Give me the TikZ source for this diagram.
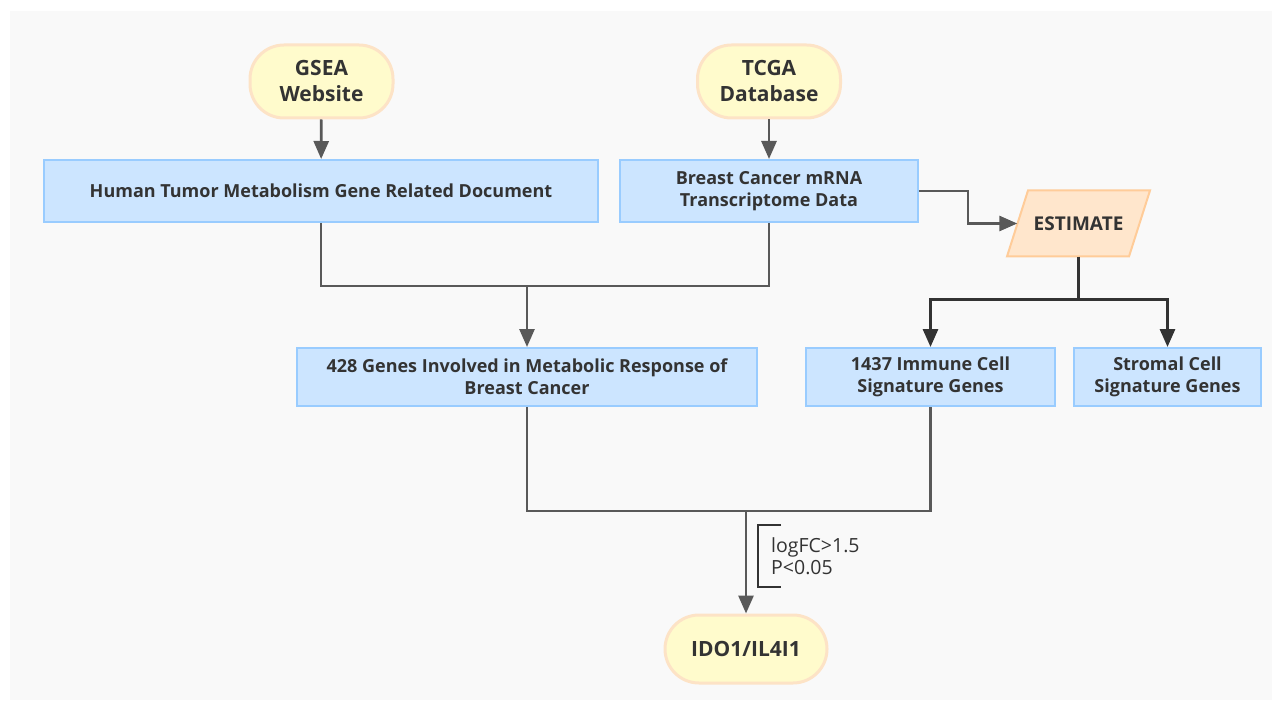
\documentclass[tikz,border=0pt]{standalone}
\usepackage{fontspec}
\setmainfont{Open Sans}
\usetikzlibrary{arrows.meta}
\definecolor{bgc}{HTML}{F9F9F9}
\definecolor{termfill}{HTML}{FFFBCC}
\definecolor{termdraw}{HTML}{FDE3C6}
\definecolor{boxfill}{HTML}{CCE5FF}
\definecolor{boxdraw}{HTML}{99CCFF}
\definecolor{estfill}{HTML}{FFE6CC}
\definecolor{estdraw}{HTML}{FFCC99}
\definecolor{txt}{HTML}{333333}
\definecolor{grayline}{HTML}{595959}
\definecolor{darkline}{HTML}{333333}
\tikzset{
  term/.style={draw=termdraw, fill=termfill, line width=3pt, rounded corners=34pt,
    minimum width=143pt, minimum height=73pt, align=center, text=txt,
    font=\fontsize{21}{26}\selectfont\bfseries, inner sep=0pt},
  box/.style={draw=boxdraw, fill=boxfill, line width=2pt, align=center, text=txt,
    font=\fontsize{18}{22}\selectfont\bfseries, inner sep=0pt},
  gl/.style={draw=grayline, line width=2.8pt},
  dl/.style={draw=darkline, line width=3pt},
  arr/.style={-{Triangle[width=15pt,length=18pt]}},
}
\begin{document}
\begin{tikzpicture}[x=1pt,y=-1pt]
\useasboundingbox (0,0) rectangle (1282,711);
\fill[bgc] (10,11) rectangle (1272,700);

% terminals
\node[term] (gsea) at (321.5,81.5) {GSEA\\Website};
\node[term] (tcga) at (769,81.5) {TCGA\\Database};
\node[term, minimum width=162pt, minimum height=68pt] (ido) at (746,649) {IDO1/IL4I1};

% boxes
\node[box, minimum width=554pt, minimum height=62pt] (human) at (321,191) {Human Tumor Metabolism Gene Related Document};
\node[box, minimum width=298pt, minimum height=62pt] (breast) at (769,191) {Breast Cancer mRNA\\Transcriptome Data};
\node[box, minimum width=460pt, minimum height=58pt] (genes) at (527,377) {428 Genes Involved in Metabolic Response of\\Breast Cancer};
\node[box, minimum width=249pt, minimum height=58pt] (immune) at (930.5,377) {1437 Immune Cell\\Signature Genes};
\node[box, minimum width=187pt, minimum height=58pt] (stromal) at (1167.5,377) {Stromal Cell\\Signature Genes};

% ESTIMATE parallelogram
\filldraw[fill=estfill, draw=estdraw, line width=2pt] (1028,190.5) -- (1150,190.5) -- (1129,256.5) -- (1007,256.5) -- cycle;
\node[text=txt, font=\fontsize{19}{22}\selectfont\bfseries, minimum width=122pt, minimum height=66pt, inner sep=0pt] (estimate) at (1078.5,223.5) {ESTIMATE};

% connectors
\draw[gl,arr] (gsea) -- (human);
\draw[gl,arr] (tcga) -- (breast);
\coordinate (j1) at (527,286);
\draw[gl] (human.south) |- (j1);
\draw[gl] (breast.south) |- (j1);
\draw[gl,arr] (j1) -- (genes.north);
\draw[gl,arr] (breast.east) -- ++(49,0) |- (estimate.west);
\coordinate (j3) at (1078.5,300);
\draw[dl] (estimate.south) -- (j3);
\draw[dl,arr] (j3) -| (immune.north);
\draw[dl,arr] (j3) -| (stromal.north);
\coordinate (j4) at (746,511);
\draw[gl] (genes.south) |- (j4);
\draw[gl] (immune.south) |- (j4);
\draw[gl,arr] (j4) -- (ido.north);

% condition bracket
\draw[darkline, line width=2.5pt] (781,525) -- (758,525) -- (758,587) -- (781,587);
\node[anchor=west, align=left, text=txt, font=\fontsize{19.5}{22}\selectfont, inner sep=0pt] (cond) at (771,556) {logFC>1.5\\P<0.05};
\end{tikzpicture}
\end{document}
